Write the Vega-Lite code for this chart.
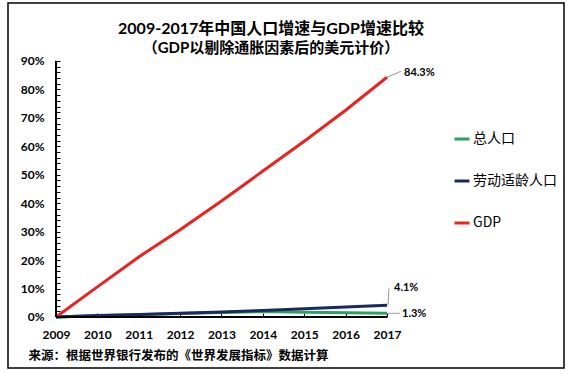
{
  "$schema": "https://vega.github.io/schema/vega-lite/v6.json",
  "width": 556,
  "height": 365,
  "autosize": {"type": "none"},
  "padding": {"left": 8, "top": 3, "right": 7, "bottom": 6},
  "background": "white",
  "config": {
    "view": {"stroke": "black", "strokeWidth": 1.5},
    "font": "Lato, Noto Sans CJK SC"
  },
  "title": {
    "text": "2009-2017年中国人口增速与GDP增速比较",
    "subtitle": "（GDP以剔除通胀因素后的美元计价）",
    "anchor": "middle",
    "font": "Lato, Noto Sans CJK SC",
    "fontSize": 16,
    "fontWeight": "bold",
    "color": "black",
    "subtitleFont": "Lato, Noto Sans CJK SC",
    "subtitleFontSize": 15,
    "subtitleFontWeight": "bold",
    "subtitleColor": "black",
    "subtitlePadding": 4,
    "offset": 0,
    "dy": 53,
    "dx": -15
  },
  "data": {
    "values": [
      {"year": 2009, "series": "总人口", "value": 0},
      {"year": 2010, "series": "总人口", "value": 0.4},
      {"year": 2011, "series": "总人口", "value": 0.8},
      {"year": 2012, "series": "总人口", "value": 1.2},
      {"year": 2013, "series": "总人口", "value": 1.6},
      {"year": 2014, "series": "总人口", "value": 1.9},
      {"year": 2015, "series": "总人口", "value": 1.7},
      {"year": 2016, "series": "总人口", "value": 1.5},
      {"year": 2017, "series": "总人口", "value": 1.3},
      {"year": 2009, "series": "劳动适龄人口", "value": 0},
      {"year": 2010, "series": "劳动适龄人口", "value": 0.5},
      {"year": 2011, "series": "劳动适龄人口", "value": 0.9},
      {"year": 2012, "series": "劳动适龄人口", "value": 1.3},
      {"year": 2013, "series": "劳动适龄人口", "value": 1.8},
      {"year": 2014, "series": "劳动适龄人口", "value": 2.3},
      {"year": 2015, "series": "劳动适龄人口", "value": 2.9},
      {"year": 2016, "series": "劳动适龄人口", "value": 3.5},
      {"year": 2017, "series": "劳动适龄人口", "value": 4.1},
      {"year": 2009, "series": "GDP", "value": 0},
      {"year": 2010, "series": "GDP", "value": 10.6},
      {"year": 2011, "series": "GDP", "value": 21.1},
      {"year": 2012, "series": "GDP", "value": 30.7},
      {"year": 2013, "series": "GDP", "value": 40.8},
      {"year": 2014, "series": "GDP", "value": 51.3},
      {"year": 2015, "series": "GDP", "value": 61.8},
      {"year": 2016, "series": "GDP", "value": 72.7},
      {"year": 2017, "series": "GDP", "value": 84.3}
    ]
  },
  "transform": [
    {"calculate": "format(datum.value, '.1f') + '%'", "as": "label"}
  ],
  "layer": [
    {
      "mark": {"type": "line"},
      "encoding": {
        "x": {
          "field": "year",
          "type": "quantitative",
          "scale": {"domain": [2007.84, 2021.278], "nice": false, "zero": false},
          "axis": {
            "orient": "bottom",
            "offset": -51,
            "values": [2009, 2010, 2011, 2012, 2013, 2014, 2015, 2016, 2017],
            "tickCount": 20,
            "format": "d",
            "domain": false,
            "grid": false,
            "tickSize": -4,
            "tickColor": "black",
            "labelPadding": 16,
            "labelFont": "Lato",
            "labelFontSize": 12,
            "labelFontWeight": "bold",
            "labelColor": "black",
            "title": "来源：根据世界银行发布的《世界发展指标》数据计算",
            "titleFont": "Noto Sans CJK SC",
            "titleFontSize": 12.5,
            "titleFontWeight": "bold",
            "titleColor": "black",
            "titleAnchor": "start",
            "titleAlign": "left",
            "titleBaseline": "middle",
            "titleX": 20,
            "titleY": 38
          }
        },
        "y": {
          "field": "value",
          "type": "quantitative",
          "scale": {"domain": [-17.93, 110.39], "nice": false, "zero": false},
          "axis": {
            "orient": "left",
            "offset": -48,
            "values": [0, 2, 4, 6, 8, 10, 12, 14, 16, 18, 20, 22, 24, 26, 28, 30, 32, 34, 36, 38, 40, 42, 44, 46, 48, 50, 52, 54, 56, 58, 60, 62, 64, 66, 68, 70, 72, 74, 76, 78, 80, 82, 84, 86, 88, 90],
            "tickCount": 100,
            "labelExpr": "datum.value % 10 === 0 ? datum.value + '%' : ''",
            "labelOverlap": false,
            "domain": false,
            "grid": false,
            "tickSize": -4,
            "tickColor": "black",
            "labelPadding": 16,
            "labelFont": "Lato",
            "labelFontSize": 12,
            "labelFontWeight": "bold",
            "labelColor": "black",
            "title": null
          }
        },
        "color": {
          "field": "series",
          "type": "nominal",
          "scale": {
            "domain": ["总人口", "劳动适龄人口", "GDP"],
            "range": ["#2BA162", "#1B2A5E", "#E8241F"]
          },
          "legend": {
            "orient": "none",
            "legendX": 445,
            "legendY": 127,
            "title": null,
            "symbolType": "stroke",
            "symbolSize": 225,
            "symbolStrokeWidth": 2.5,
            "labelFont": "Noto Sans CJK SC",
            "labelFontSize": 14,
            "labelColor": "black",
            "rowPadding": 26,
            "labelOffset": 2,
            "padding": 0
          }
        },
        "strokeWidth": {
          "field": "series",
          "type": "nominal",
          "scale": {"domain": ["总人口", "劳动适龄人口", "GDP"], "range": [3, 3, 1.8]},
          "legend": null
        }
      }
    },
    {
      "mark": {"type": "rule", "color": "black", "strokeWidth": 1},
      "encoding": {
        "x": {"datum": 2009, "type": "quantitative"},
        "y": {"datum": 0, "type": "quantitative"},
        "y2": {"datum": 90}
      }
    },
    {
      "mark": {"type": "rule", "color": "black", "strokeWidth": 1},
      "encoding": {
        "x": {"datum": 2009, "type": "quantitative"},
        "x2": {"datum": 2017},
        "y": {"datum": 0, "type": "quantitative"}
      }
    },
    {
      "transform": [{"filter": "datum.year === 2017 && datum.series === 'GDP'"}],
      "mark": {"type": "rule", "color": "#999999", "strokeWidth": 1, "x2Offset": 14, "y2Offset": -6},
      "encoding": {
        "x": {"field": "year", "type": "quantitative"},
        "y": {"field": "value", "type": "quantitative"},
        "x2": {"field": "year"},
        "y2": {"field": "value"}
      }
    },
    {
      "transform": [{"filter": "datum.year === 2017 && datum.series === '劳动适龄人口'"}],
      "mark": {"type": "rule", "color": "#999999", "strokeWidth": 1, "xOffset": 1, "x2Offset": 2, "y2Offset": -17},
      "encoding": {
        "x": {"field": "year", "type": "quantitative"},
        "y": {"field": "value", "type": "quantitative"},
        "x2": {"field": "year"},
        "y2": {"field": "value"}
      }
    },
    {
      "transform": [{"filter": "datum.year === 2017 && datum.series === '总人口'"}],
      "mark": {"type": "rule", "color": "#999999", "strokeWidth": 1, "x2Offset": 13},
      "encoding": {
        "x": {"field": "year", "type": "quantitative"},
        "y": {"field": "value", "type": "quantitative"},
        "x2": {"field": "year"},
        "y2": {"field": "value"}
      }
    },
    {
      "transform": [{"filter": "datum.year === 2017 && datum.series === 'GDP'"}],
      "mark": {"type": "text", "align": "left", "baseline": "middle", "dx": 17, "dy": -4, "font": "Lato", "fontSize": 11, "fontWeight": "bold", "color": "black"},
      "encoding": {
        "x": {"field": "year", "type": "quantitative"},
        "y": {"field": "value", "type": "quantitative"},
        "text": {"field": "label", "type": "nominal"}
      }
    },
    {
      "transform": [{"filter": "datum.year === 2017 && datum.series === '劳动适龄人口'"}],
      "mark": {"type": "text", "align": "left", "baseline": "middle", "dx": 7, "dy": -17, "font": "Lato", "fontSize": 11, "fontWeight": "bold", "color": "black"},
      "encoding": {
        "x": {"field": "year", "type": "quantitative"},
        "y": {"field": "value", "type": "quantitative"},
        "text": {"field": "label", "type": "nominal"}
      }
    },
    {
      "transform": [{"filter": "datum.year === 2017 && datum.series === '总人口'"}],
      "mark": {"type": "text", "align": "left", "baseline": "middle", "dx": 15, "dy": 1, "font": "Lato", "fontSize": 11, "fontWeight": "bold", "color": "black"},
      "encoding": {
        "x": {"field": "year", "type": "quantitative"},
        "y": {"field": "value", "type": "quantitative"},
        "text": {"field": "label", "type": "nominal"}
      }
    }
  ]
}
